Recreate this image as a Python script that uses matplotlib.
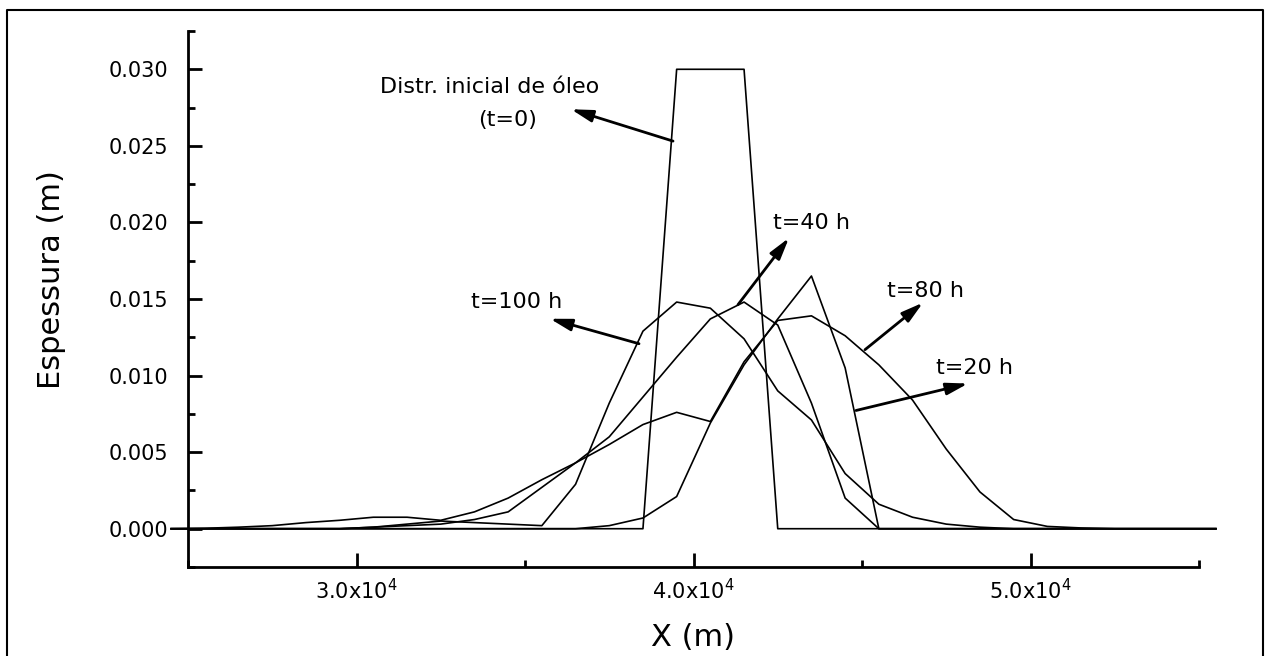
#Oil slick thickness profiles along X for several times
import numpy as np
import matplotlib.pyplot as plt
from matplotlib.ticker import MultipleLocator, FormatStrFormatter, FuncFormatter
from matplotlib.lines import Line2D

plt.rcParams['font.family'] = 'DejaVu Sans'
plt.rcParams['mathtext.fontset'] = 'dejavusans'

#grid nodes (m)
x_nodes = [24500, 25500, 26500, 27500, 28500, 29500, 30500, 31500, 32500, 33500,
           34500, 35500, 36500, 37500, 38500, 39500, 40500, 41500, 42500, 43500,
           44500, 45500, 46500, 47500, 48500, 49500, 50500, 51500, 52500, 53500,
           54500, 55500]

#thickness (m)
t0 = [0, 0, 0, 0, 0, 0, 0, 0, 0, 0,
      0, 0, 0, 0, 0, 0.030, 0.030, 0.030, 0, 0,
      0, 0, 0, 0, 0, 0, 0, 0, 0, 0,
      0, 0]
t20 = [0, 0, 0, 0, 0, 0, 0, 0, 0, 0,
       0, 0, 0, 0.0002, 0.0007, 0.0021, 0.0069, 0.0107, 0.0137, 0.0165,
       0.0105, 0.0, 0, 0, 0, 0, 0, 0, 0, 0,
       0, 0]
t40 = [0, 0, 0, 0, 0, 0, 0.0001, 0.0002, 0.0003, 0.0006,
       0.0011, 0.0027, 0.0043, 0.0060, 0.0086, 0.0112, 0.0137, 0.0148, 0.0133, 0.0082,
       0.0020, 0.0, 0, 0, 0, 0, 0, 0, 0, 0,
       0, 0]
t80 = [0, 0.00003, 0.0001, 0.0002, 0.0004, 0.00055, 0.00075, 0.00075, 0.00055, 0.0011,
       0.0020, 0.0032, 0.0043, 0.0055, 0.0068, 0.0076, 0.0070, 0.0109, 0.0136, 0.0139,
       0.0126, 0.0107, 0.0084, 0.0052, 0.0024, 0.0006, 0.00015, 0.00005, 0, 0,
       0, 0]
t100 = [0, 0, 0, 0, 0, 0, 0.0001, 0.0003, 0.0005, 0.0004,
        0.0003, 0.0002, 0.0029, 0.0082, 0.0129, 0.0148, 0.0144, 0.0124, 0.0090, 0.0071,
        0.0036, 0.0016, 0.00075, 0.0003, 0.0001, 0, 0, 0, 0, 0,
        0, 0]

fig = plt.figure(figsize=(12.68, 6.56), dpi=100)
ax = fig.add_axes([188/1268, 1-567/656, (1199-188)/1268, (567-31)/656])

for prof in [t0, t20, t40, t80, t100]:
    ax.plot(x_nodes, prof, color='black', lw=1.2, clip_on=False)

ax.set_xlim(25000, 55000)
ax.set_ylim(-0.0025, 0.0325)

ax.spines['top'].set_visible(False)
ax.spines['right'].set_visible(False)
for s in ['left', 'bottom']:
    ax.spines[s].set_linewidth(2)

ax.xaxis.set_major_locator(MultipleLocator(10000))
ax.xaxis.set_minor_locator(MultipleLocator(5000))
ax.yaxis.set_major_locator(MultipleLocator(0.005))
ax.yaxis.set_minor_locator(MultipleLocator(0.0025))
ax.yaxis.set_major_formatter(FormatStrFormatter('%.3f'))
ax.xaxis.set_major_formatter(FuncFormatter(lambda v, p: '%.1fx10$^{4}$' % (v/1e4)))
ax.tick_params(which='major', direction='in', length=10, width=2, labelsize=15)
ax.tick_params(which='minor', direction='in', length=5, width=2)
ax.tick_params(axis='y', pad=14)
ax.tick_params(axis='x', pad=8)

#axis titles
fig.text(52/1268, 1-280/656, 'Espessura (m)', rotation=90, ha='center', va='center', fontsize=22)
fig.text(693/1268, 1-638/656, 'X (m)', ha='center', va='center', fontsize=22)

#labels with arrows
arr = dict(arrowstyle='-|>,head_length=0.65,head_width=0.18', color='black', lw=2,
           mutation_scale=20, shrinkA=0, shrinkB=0)
ax.text(33960, 0.02883, 'Distr. inicial de óleo', ha='center', va='center', fontsize=16)
ax.text(34496, 0.02668, '(t=0)', ha='center', va='center', fontsize=16)
ax.annotate('', xy=(36365, 0.02739), xytext=(39392, 0.02531), arrowprops=arr)

ax.text(34763, 0.01482, 't=100 h', ha='center', va='center', fontsize=16)
ax.annotate('', xy=(35742, 0.01371), xytext=(38383, 0.01208), arrowprops=arr)

ax.text(43516, 0.01997, 't=40 h', ha='center', va='center', fontsize=16)
ax.annotate('', xy=(42834, 0.01899), xytext=(41320, 0.01463), arrowprops=arr)

ax.text(46899, 0.01554, 't=80 h', ha='center', va='center', fontsize=16)
ax.annotate('', xy=(46810, 0.01476), xytext=(45089, 0.01169), arrowprops=arr)

ax.text(48353, 0.01052, 't=20 h', ha='center', va='center', fontsize=16)
ax.annotate('', xy=(48145, 0.00948), xytext=(44822, 0.00772), arrowprops=arr)

#outer frame (bottom edge is cut off in the scan)
fx = [7/1268, 7/1268, 1263/1268, 1263/1268]
fy = [0, 1-10/656, 1-10/656, 0]
fig.lines.append(Line2D(fx, fy, transform=fig.transFigure, color='black', lw=1.5))

fig.savefig('out.png', dpi=100)
